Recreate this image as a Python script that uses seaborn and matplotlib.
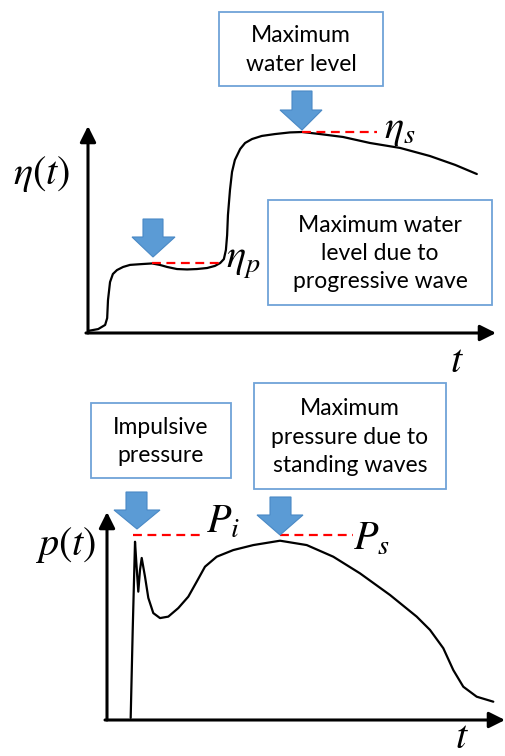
import numpy as np
import pandas as pd
import matplotlib
matplotlib.use("Agg")
import matplotlib.pyplot as plt
import seaborn as sns
from matplotlib.patches import Rectangle, Polygon
from matplotlib.transforms import Affine2D

# ---------------- data (schematic values) ----------------
top_t = [0.00, 0.25, 0.42, 0.47, 0.49, 0.54, 0.61, 0.71, 0.86, 1.03, 1.32, 1.57,
         1.76, 1.94, 2.18, 2.43, 2.67, 2.92, 3.11, 3.24, 3.33, 3.38, 3.41, 3.43,
         3.48, 3.53, 3.60, 3.73, 3.85, 4.02, 4.26, 4.58, 4.95, 5.25, 5.69, 6.25,
         6.91, 7.65, 8.38, 9.00, 9.53]
top_eta = [0.10, 0.19, 0.39, 0.72, 1.59, 2.46, 2.85, 3.04, 3.19, 3.29, 3.33, 3.36,
           3.29, 3.19, 3.09, 3.07, 3.09, 3.14, 3.24, 3.38, 3.57, 4.01, 4.73, 5.70,
           6.91, 7.78, 8.36, 8.89, 9.18, 9.37, 9.52, 9.61, 9.69, 9.71, 9.61, 9.47,
           9.18, 8.94, 8.55, 8.12, 7.68]
eta_p_level, eta_p_t = 3.36, (1.57, 3.31)
eta_s_level, eta_s_t = 9.71, (5.25, 7.08)

bot_t = [0.595, 0.646, 0.704, 0.741, 0.786, 0.829, 0.872, 0.955, 1.038, 1.163,
         1.332, 1.540, 1.791, 2.043, 2.254, 2.462, 2.756, 3.173, 3.676, 4.347,
         5.018, 5.686, 6.357, 7.111, 7.781, 8.116, 8.450, 8.701, 8.952, 9.289,
         9.706]
bot_p = [0.10, 4.33, 8.57, 7.45, 6.17, 7.21, 7.79, 6.89, 5.87, 5.14,
         4.90, 4.97, 5.38, 5.93, 6.65, 7.37, 7.85, 8.17, 8.41, 8.62,
         8.41, 7.85, 7.05, 6.01, 4.97, 4.33, 3.45, 2.40, 1.60, 1.12,
         0.88]
P_i_level, P_i_t = 8.89, (0.65, 2.46)
P_s_level, P_s_t = 8.89, (4.35, 6.18)

box_texts = ["Maximum\nwater level",
             "Maximum water\nlevel due to\nprogressive wave",
             "Impulsive\npressure",
             "Maximum\npressure due to\nstanding waves"]

# ---------------- figure ----------------
sns.set_theme(style="white")
plt.rcParams["font.family"] = ["Lato", "DejaVu Sans"]
plt.rcParams["mathtext.fontset"] = "stix"

W, H = 505, 756
fig = plt.figure(figsize=(W / 100, H / 100), dpi=100)
px = Affine2D().scale(1 / W, -1 / H).translate(0, 1) + fig.transFigure

def rect(x0, x1, ytop, ybot):
    return [x0 / W, 1 - ybot / H, (x1 - x0) / W, (ybot - ytop) / H]

BLUE = "#5B9BD5"
BOXEDGE = "#6FA3D8"

def draw_axes_arrows(ax):
    kw = dict(arrowstyle="-|>,head_length=0.8,head_width=0.4", lw=2.2,
              color="black", shrinkA=0, shrinkB=0)
    ax.annotate("", xy=(0, 1), xytext=(0, 0), xycoords="axes fraction",
                arrowprops=kw, annotation_clip=False)
    ax.annotate("", xy=(1, 0), xytext=(-0.005, 0), xycoords="axes fraction",
                arrowprops=kw, annotation_clip=False)

DASH = (0, (4, 2.5))

# top panel
ax1 = fig.add_axes(rect(88, 496, 126, 333))
ax1.set_xlim(0, 10); ax1.set_ylim(0, 10); ax1.axis("off")
sns.lineplot(x=top_t, y=top_eta, ax=ax1, sort=False, estimator=None,
             color="black", lw=1.6)
ax1.hlines(eta_p_level, *eta_p_t, colors="red", linestyles=DASH, lw=1.6)
ax1.hlines(eta_s_level, *eta_s_t, colors="red", linestyles=DASH, lw=1.6)
draw_axes_arrows(ax1)

# bottom panel
ax2 = fig.add_axes(rect(107, 505, 512, 720))
ax2.set_xlim(0, 10); ax2.set_ylim(0, 10); ax2.axis("off")
sns.lineplot(x=bot_t, y=bot_p, ax=ax2, sort=False, estimator=None,
             color="black", lw=1.6)
ax2.hlines(P_i_level, *P_i_t, colors="red", linestyles=DASH, lw=1.6)
ax2.hlines(P_s_level, *P_s_t, colors="red", linestyles=DASH, lw=1.6)
draw_axes_arrows(ax2)

# math labels
mkw = dict(transform=px, fontsize=29, color="black")
fig.text(42, 174, r"$\eta(t)$", ha="center", va="center", **mkw)
fig.text(226, 268, r"$\eta_p$", ha="left", va="baseline", **mkw)
fig.text(384, 138, r"$\eta_s$", ha="left", va="baseline", **mkw)
fig.text(450, 372, r"$t$", ha="left", va="baseline", **mkw)
fig.text(66, 545, r"$p(t)$", ha="center", va="center", **mkw)
fig.text(206, 533, r"$P_i$", ha="left", va="baseline", **mkw)
fig.text(353, 550, r"$P_s$", ha="left", va="baseline", **mkw)
fig.text(455, 755, r"$t$", ha="left", va="bottom", **mkw)

# boxes
boxes = [(219, 12, 383, 86), (268, 200, 492, 305), (91, 403, 231, 478), (254, 383, 446, 489)]
for (x0, y0, x1, y1), s in zip(boxes, box_texts):
    fig.patches.append(Rectangle((x0, y0), x1 - x0, y1 - y0, transform=px,
                                 fill=False, edgecolor=BOXEDGE, lw=1.3))
    fig.text((x0 + x1) / 2, (y0 + y1) / 2 + 1, s, transform=px, ha="center",
             va="center", fontsize=16.5, linespacing=1.42, color="black")

# block arrows: (shaft x0, shaft x1, top, head y, head x0, head x1, tip x, tip y)
arrows = [(143, 163, 219, 237, 132, 175, 153, 257),
          (292, 312, 91, 110, 280, 322, 302, 130),
          (126, 147, 492, 510, 114, 160, 137, 529),
          (270, 291, 497, 515, 257, 303, 280, 535)]
for sx0, sx1, top, hy, hx0, hx1, tx, ty in arrows:
    pts = [(sx0, top), (sx1, top), (sx1, hy), (hx1, hy), (tx, ty), (hx0, hy), (sx0, hy)]
    fig.patches.append(Polygon(pts, closed=True, transform=px, facecolor=BLUE,
                               edgecolor="#4A89C5", lw=0.8))

fig.savefig("out.png", dpi=100)
